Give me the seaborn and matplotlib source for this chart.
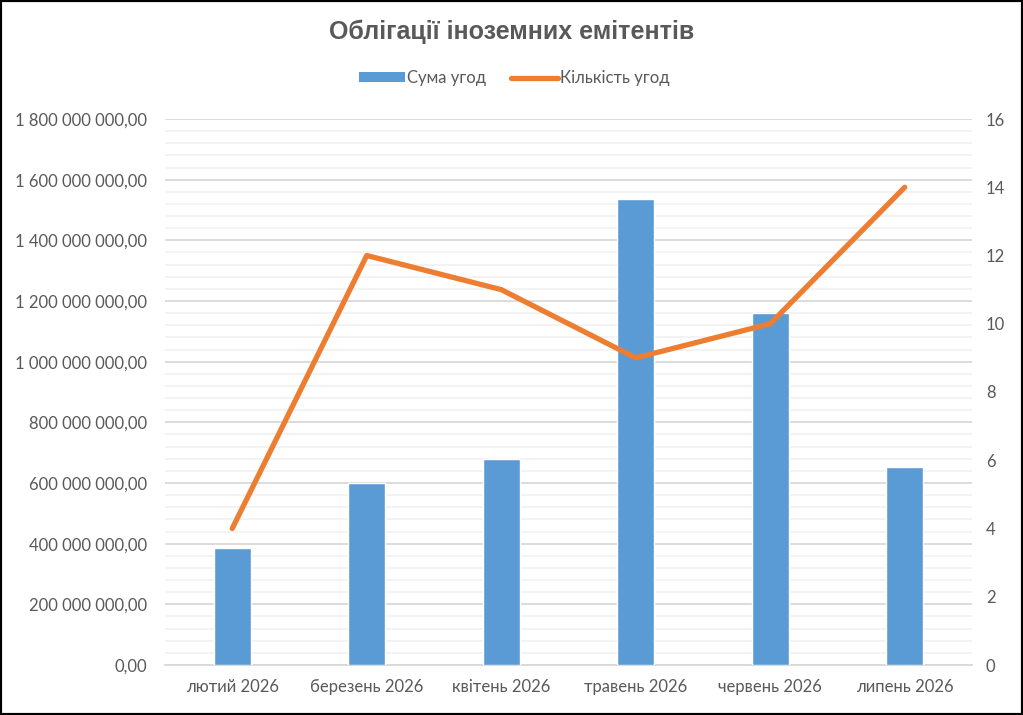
import matplotlib
matplotlib.use("Agg")
import matplotlib.pyplot as plt
import matplotlib.ticker as mticker
from matplotlib.patches import Rectangle, Patch
from matplotlib.lines import Line2D
import seaborn as sns
import pandas as pd

categories = ["лютий 2026", "березень 2026", "квітень 2026", "травень 2026", "червень 2026", "липень 2026"]
amounts = [386e6, 601e6, 680e6, 1535e6, 1161e6, 653e6]
counts = [4, 12, 11, 9, 10, 14]
title = "Облігації іноземних емітентів"
label_sum = "Сума угод"
label_cnt = "Кількість угод"

sns.set_theme(style="white")
plt.rcParams['font.family'] = ['Lato', 'DejaVu Sans']

bar_color = "#5B9BD5"
line_color = "#ED7D31"
text_color = "#595959"

df = pd.DataFrame({"cat": categories, "amount": amounts, "count": counts})

fig = plt.figure(figsize=(10.23, 7.15), dpi=100)
ax = fig.add_axes([165/1023, 1-665/715, (972-165)/1023, (665-119)/715])

sns.barplot(data=df, x="cat", y="amount", color=bar_color, width=0.275, ax=ax, saturation=1, zorder=3)
ax.set_xlim(-0.5, 5.5)
ax.set_ylim(0, 1.8e9)
ax.yaxis.set_major_locator(mticker.MultipleLocator(2e8))
ax.yaxis.set_minor_locator(mticker.MultipleLocator(4e7))

def fmt(v, pos):
    s = f"{v:,.2f}".replace(",", " ").replace(".", ",")
    return s
ax.yaxis.set_major_formatter(mticker.FuncFormatter(fmt))
ax.grid(which="major", axis="y", color="#D9D9D9", linewidth=1.3, zorder=0)
ax.grid(which="minor", axis="y", color="#F2F2F2", linewidth=1.3, zorder=0)
ax.set_axisbelow(True)
for s in ["top", "right", "left"]:
    ax.spines[s].set_visible(False)
ax.spines["bottom"].set_color("#D9D9D9")
ax.spines["bottom"].set_linewidth(1.3)
ax.set_xlabel("")
ax.set_ylabel("")
ax.tick_params(axis="y", which="both", length=0, labelsize=12, labelcolor=text_color, pad=13)
ax.tick_params(axis="x", which="major", length=0, labelsize=12, labelcolor=text_color, pad=10)
ax.set_xticks(range(len(categories)))
ax.set_xticklabels(categories)
ax.set_xticks([i - 0.5 for i in range(len(categories) + 1)], minor=True)
ax.tick_params(axis="x", which="minor", length=6, color="#D9D9D9", width=1.3)

ax2 = ax.twinx()
sns.lineplot(data=df, x="cat", y="count", color=line_color, linewidth=3.8, ax=ax2, sort=False, zorder=4)
ax2.lines[0].set_solid_capstyle("round")
ax2.lines[0].set_solid_joinstyle("round")
ax2.set_ylim(0, 16)
ax2.set_xlim(-0.5, 5.5)
ax2.yaxis.set_major_locator(mticker.MultipleLocator(2))
for s in ["top", "right", "left", "bottom"]:
    ax2.spines[s].set_visible(False)
ax2.set_ylabel("")
ax2.set_xlabel("")
ax2.tick_params(axis="y", length=0, labelsize=12, labelcolor=text_color, pad=10)
ax2.grid(False)

fig.text(512/1023, 1-32/715, title, ha="center", va="center", fontsize=18,
         fontweight="bold", color=text_color, family=["Liberation Sans", "DejaVu Sans"])

handles = [Patch(facecolor=bar_color, edgecolor="none"),
           Line2D([0], [0], color=line_color, linewidth=3.8, solid_capstyle="round")]
fig.legend(handles, [label_sum, label_cnt], loc="center", bbox_to_anchor=(514/1023, 1-78/715),
           ncol=2, frameon=False, fontsize=12, labelcolor=text_color,
           handlelength=2.8, handleheight=0.5, columnspacing=1.5, handletextpad=0.1)

fig.patches.append(Rectangle((0, 0), 1, 1, transform=fig.transFigure, fill=False,
                             edgecolor="black", linewidth=3, zorder=10))

fig.savefig("out.png", dpi=100)
